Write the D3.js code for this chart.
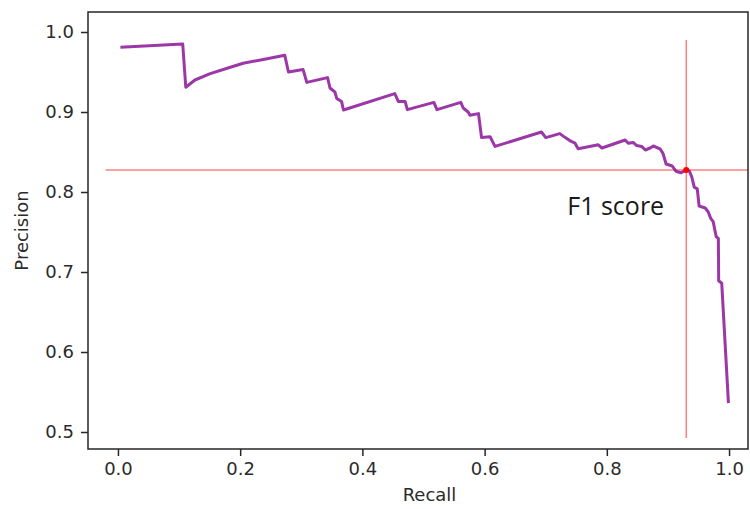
<!DOCTYPE html>
<html>
<head>
<meta charset="utf-8">
<script src="https://cdn.jsdelivr.net/npm/d3@7"></script>
<style>
  html, body { margin: 0; padding: 0; background: #fff; }
  svg { display: block; }
  .tick text { font-family: "DejaVu Sans", sans-serif; font-size: 18px; fill: #2b2b2b; }
  .label { font-family: "DejaVu Sans", sans-serif; font-size: 18px; fill: #2b2b2b; }
</style>
</head>
<body>
<div id="chart"></div>
<script>
'use strict';

// precision-recall curve
const recall = [0.004, 0.106, 0.111, 0.126, 0.151, 0.180, 0.205, 0.240, 0.273, 0.279,
    0.303, 0.309, 0.343, 0.347, 0.355, 0.358, 0.366, 0.369, 0.453, 0.459,
    0.470, 0.4735, 0.517, 0.522, 0.561, 0.565, 0.573, 0.576, 0.590, 0.595,
    0.609, 0.617, 0.693, 0.700, 0.723, 0.732, 0.740, 0.748, 0.753, 0.786,
    0.792, 0.830, 0.835, 0.843, 0.849, 0.857, 0.863, 0.871, 0.876, 0.887,
    0.892, 0.897, 0.907, 0.913, 0.921, 0.930, 0.935, 0.939, 0.943, 0.948,
    0.951, 0.961, 0.966, 0.970, 0.974, 0.979, 0.9825, 0.983, 0.988, 0.999];
const precision = [0.981, 0.985, 0.931, 0.940, 0.948, 0.955, 0.961, 0.966, 0.971, 0.950,
    0.953, 0.937, 0.943, 0.930, 0.925, 0.917, 0.913, 0.9025, 0.923, 0.913,
    0.913, 0.903, 0.912, 0.903, 0.912, 0.905, 0.900, 0.896, 0.898, 0.868,
    0.869, 0.857, 0.875, 0.868, 0.873, 0.868, 0.864, 0.861, 0.854, 0.859,
    0.855, 0.865, 0.861, 0.862, 0.858, 0.857, 0.8525, 0.855, 0.8575, 0.854,
    0.848, 0.835, 0.8325, 0.826, 0.824, 0.8275, 0.826, 0.819, 0.806, 0.804,
    0.7825, 0.780, 0.775, 0.767, 0.763, 0.744, 0.742, 0.689, 0.686, 0.536];

// F1 point and its guide lines
const f1Recall = 0.93;
const f1Precision = 0.8275;
const vGuideSpan = [0.4925, 0.99];
const hGuideSpan = [-0.02, 1.05];
const f1Label = 'F1 score';

const xTicks = [0.0, 0.2, 0.4, 0.6, 0.8, 1.0];
const yTicks = [0.5, 0.6, 0.7, 0.8, 0.9, 1.0];
const xDomain = [-0.049, 1.031];
const yDomain = [0.47875, 1.025];

window.addEventListener('load', () => {
    const W = 750, H = 509;
    const margin = {top: 12, right: 2, bottom: 60, left: 88};
    const width = W - margin.left - margin.right,
        height = H - margin.top - margin.bottom;

    const svg = d3.select('#chart')
      .append('svg')
        .attr('width', W)
        .attr('height', H)
      .append('g')
        .attr('transform', `translate(${margin.left},${margin.top})`);

    const x = d3.scaleLinear().domain(xDomain).range([0, width]);
    const y = d3.scaleLinear().domain(yDomain).range([height, 0]);

    // clip so the guide line stops at the frame
    svg.append('clipPath').attr('id', 'plot-area')
      .append('rect').attr('width', width).attr('height', height);

    const plot = svg.append('g').attr('clip-path', 'url(#plot-area)');

    // guide lines
    plot.append('line')
        .attr('x1', x(hGuideSpan[0])).attr('x2', x(hGuideSpan[1]))
        .attr('y1', y(f1Precision)).attr('y2', y(f1Precision))
        .attr('stroke', 'red').attr('stroke-opacity', 0.5).attr('stroke-width', 1.5);
    plot.append('line')
        .attr('x1', x(f1Recall)).attr('x2', x(f1Recall))
        .attr('y1', y(vGuideSpan[0])).attr('y2', y(vGuideSpan[1]))
        .attr('stroke', 'red').attr('stroke-opacity', 0.5).attr('stroke-width', 1.5);

    // the curve
    const pts = recall.map((r, i) => [r, precision[i]]);
    plot.append('path')
        .datum(pts)
        .attr('fill', 'none')
        .attr('stroke', '#8a1496')
        .attr('stroke-opacity', 0.85)
        .attr('stroke-width', 3)
        .attr('stroke-linejoin', 'round')
        .attr('d', d3.line().x(d => x(d[0])).y(d => y(d[1])));

    // F1 point
    plot.append('circle')
        .attr('cx', x(f1Recall))
        .attr('cy', y(f1Precision))
        .attr('r', 3)
        .attr('fill', 'red');

    svg.append('text')
        .attr('x', x(f1Recall) - 119)
        .attr('y', y(f1Precision) + 45)
        .attr('font-family', '"Open Sans", sans-serif')
        .attr('font-size', 25)
        .attr('fill', '#1a1a1a')
        .text(f1Label);

    // axes
    const xAxis = svg.append('g')
        .attr('transform', `translate(0,${height})`)
        .call(d3.axisBottom(x).tickValues(xTicks).tickFormat(d3.format('.1f'))
            .tickSize(7).tickPadding(6).tickSizeOuter(0));
    const yAxis = svg.append('g')
        .call(d3.axisLeft(y).tickValues(yTicks).tickFormat(d3.format('.1f'))
            .tickSize(7).tickPadding(7).tickSizeOuter(0));
    [xAxis, yAxis].forEach(a => {
        a.select('.domain').remove();
        a.selectAll('.tick line').attr('stroke', '#262626').attr('stroke-width', 1.5);
        a.attr('font-family', null).attr('font-size', null);
    });

    // frame
    svg.append('rect')
        .attr('width', width)
        .attr('height', height)
        .attr('fill', 'none')
        .attr('stroke', '#262626')
        .attr('stroke-width', 1.5);

    svg.append('text')
        .attr('class', 'label')
        .attr('text-anchor', 'middle')
        .attr('x', (x(1.0) + x(0.0)) / 2 + 6)
        .attr('y', height + 52)
        .text('Recall');

    svg.append('text')
        .attr('class', 'label')
        .attr('text-anchor', 'middle')
        .attr('transform', `translate(${-60},${height / 2}) rotate(-90)`)
        .text('Precision');
});
</script>
</body>
</html>
